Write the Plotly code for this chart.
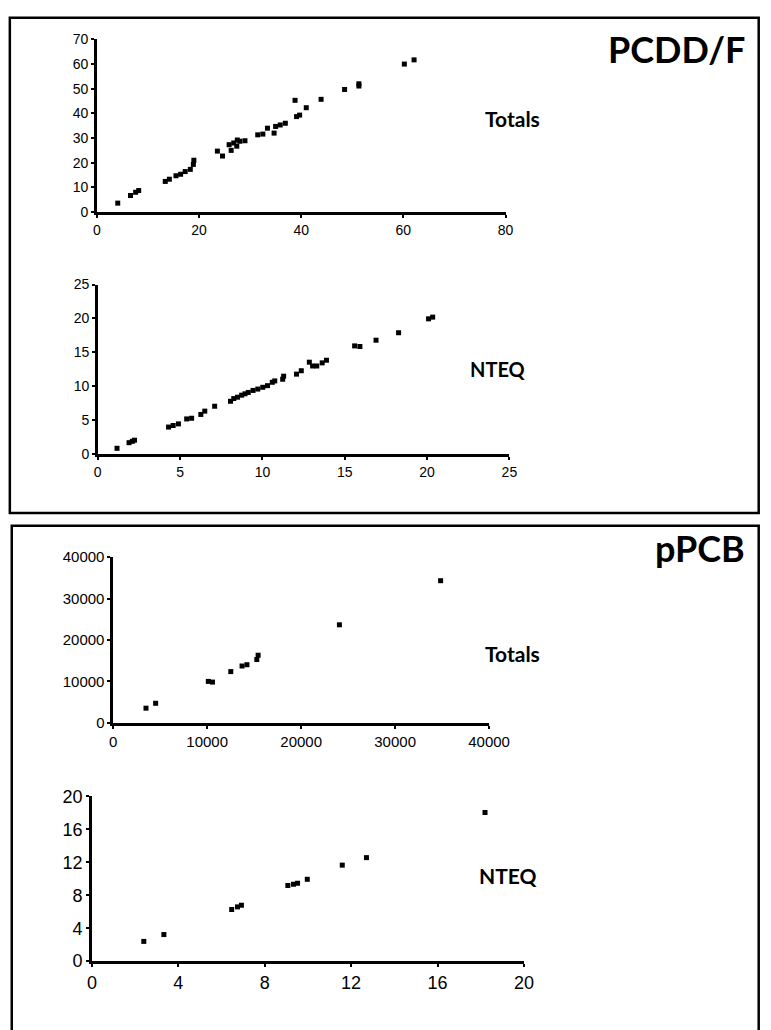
import plotly.graph_objects as go

W, H = 771, 1030

# ---------------- data ----------------
pcdd_tot_x = [4.1, 6.6, 7.6, 8.2, 13.4, 14.2, 15.5, 16.4, 17.3, 18.3, 18.9, 19.0,
              23.6, 24.6, 25.9, 26.3, 26.8, 27.4, 27.5, 28.0, 29.0, 31.5, 32.5, 33.4,
              34.7, 35.0, 35.9, 36.9, 38.8, 39.1, 39.7, 41.0, 43.9, 48.5, 51.3, 51.3,
              60.2, 62.1]
pcdd_tot_y = [3.6, 6.7, 8.0, 8.7, 12.4, 13.3, 14.7, 15.3, 16.4, 17.3, 19.3, 21.0,
              24.7, 22.7, 27.3, 25.0, 28.0, 26.7, 29.2, 28.7, 28.9, 31.3, 31.6, 34.0,
              32.0, 34.7, 35.3, 36.0, 45.3, 38.7, 39.3, 42.3, 45.7, 49.7, 51.1, 52.0,
              60.0, 61.7]

pcdd_nteq_x = [1.17, 1.9, 2.1, 2.23, 4.3, 4.58, 4.9, 5.4, 5.7, 6.26, 6.5, 7.1,
               8.06, 8.26, 8.49, 8.74, 8.94, 9.14, 9.43, 9.72, 10.02, 10.31, 10.6, 10.75,
               11.23, 11.29, 12.07, 12.36, 12.85, 13.05, 13.3, 13.63, 13.89,
               15.6, 15.92, 16.9, 18.27, 20.09, 20.34]
pcdd_nteq_y = [0.87, 1.7, 1.9, 2.06, 4.0, 4.23, 4.47, 5.2, 5.3, 5.86, 6.35, 7.07,
               7.8, 8.2, 8.4, 8.7, 8.9, 9.1, 9.4, 9.6, 9.86, 10.1, 10.6, 10.8,
               11.05, 11.5, 11.8, 12.3, 13.56, 13.0, 13.0, 13.46, 13.85,
               15.96, 15.87, 16.8, 17.9, 19.95, 20.2]

pcb_tot_x = [3487, 4513, 10120, 10560, 12510, 13710, 14230, 15280, 15420, 24070, 34840]
pcb_tot_y = [3550, 4733, 10010, 9850, 12380, 13730, 14040, 15300, 16330, 23670, 34320]

pcb_nteq_x = [2.4, 3.33, 6.47, 6.74, 6.92, 9.07, 9.33, 9.52, 9.97, 11.59, 12.71, 18.2]
pcb_nteq_y = [2.4, 3.23, 6.27, 6.59, 6.79, 9.19, 9.34, 9.46, 9.94, 11.66, 12.57, 18.05]

x_ticks_1 = [0, 20, 40, 60, 80]
y_ticks_1 = [0, 10, 20, 30, 40, 50, 60, 70]
x_ticks_2 = [0, 5, 10, 15, 20, 25]
y_ticks_2 = [0, 5, 10, 15, 20, 25]
x_ticks_3 = [0, 10000, 20000, 30000, 40000]
y_ticks_3 = [0, 10000, 20000, 30000, 40000]
x_ticks_4 = [0, 4, 8, 12, 16, 20]
y_ticks_4 = [0, 4, 8, 12, 16, 20]

# ---------------- layout helpers ----------------
def px(x):
    return x / W

def py(y):
    return 1 - y / H

fig = go.Figure()

panels = [
    # (xdata, ydata, xticks, yticks, x0px, x1px, ytop_px, ybot_px, font, size)
    (pcdd_tot_x, pcdd_tot_y, x_ticks_1, y_ticks_1, 95, 518, 30, 206, "Liberation Sans Narrow, Liberation Sans", 14),
    (pcdd_nteq_x, pcdd_nteq_y, x_ticks_2, y_ticks_2, 96, 522, 280, 453, "Liberation Sans Narrow, Liberation Sans", 14),
    (pcb_tot_x, pcb_tot_y, x_ticks_3, y_ticks_3, 112, 501, 558, 727, "Liberation Sans", 15),
    (pcb_nteq_x, pcb_nteq_y, x_ticks_4, y_ticks_4, 90, 537, 802, 970, "Liberation Sans", 18),
]

layout_axes = {}
for i, (xs, ys, xt, yt, x0, x1, yt_px, yb_px, fam, fs) in enumerate(panels, start=1):
    xa = "x" if i == 1 else f"x{i}"
    ya = "y" if i == 1 else f"y{i}"
    fig.add_trace(go.Scatter(
        x=xs, y=ys, mode="markers", xaxis=xa, yaxis=ya,
        marker=dict(symbol="square", size=5, color="black"),
        cliponaxis=False, showlegend=False, hoverinfo="skip"))
    common = dict(showgrid=False, zeroline=False, showline=True, linecolor="black",
                  linewidth=2.5, ticks="outside", ticklen=3, tickwidth=1.5,
                  tickcolor="black", tickfont=dict(family=fam, size=fs, color="black"),
                  fixedrange=True)
    layout_axes[("xaxis" if i == 1 else f"xaxis{i}")] = dict(
        common, domain=[px(x0), px(x1)], range=[xt[0], xt[-1]],
        tickvals=xt, ticktext=[str(v) for v in xt], anchor=ya)
    layout_axes[("yaxis" if i == 1 else f"yaxis{i}")] = dict(
        common, domain=[py(yb_px), py(yt_px)], range=[yt[0], yt[-1]],
        tickvals=yt, ticktext=[str(v) for v in yt], anchor=xa)

fig.update_layout(**layout_axes)

# ---------------- labels ----------------
big = dict(family="Lato, DejaVu Sans", color="black")
annots = [
    ("PCDD/F", 768, 40, 36),
    ("Totals", 556, 111, 21),
    ("NTEQ", 541, 366, 20),
    ("pPCB", 768, 549, 36),
    ("Totals", 556, 656, 21),
    ("NTEQ", 553, 883, 21),
]
for txt, xr, yc, fs in annots:
    fig.add_annotation(text=f"<b>{txt}</b>", xref="paper", yref="paper",
                       x=px(xr), y=py(yc), xanchor="right", yanchor="middle",
                       showarrow=False, font=dict(size=fs, **big))

# ---------------- panel frames ----------------
fig.add_shape(type="rect", xref="paper", yref="paper",
              x0=px(5), x1=px(780), y0=py(513), y1=py(8),
              line=dict(color="black", width=2.5))
fig.add_shape(type="rect", xref="paper", yref="paper",
              x0=px(7), x1=px(780), y0=py(1045), y1=py(526),
              line=dict(color="black", width=2.5))

fig.update_layout(width=W, height=H, margin=dict(l=0, r=0, t=0, b=0),
                  paper_bgcolor="white", plot_bgcolor="white")

fig.write_html(
    "out.html",
    config={"responsive": False, "displayModeBar": False},
    post_script="document.body.style.margin='0';document.body.style.overflow='hidden';",
)
